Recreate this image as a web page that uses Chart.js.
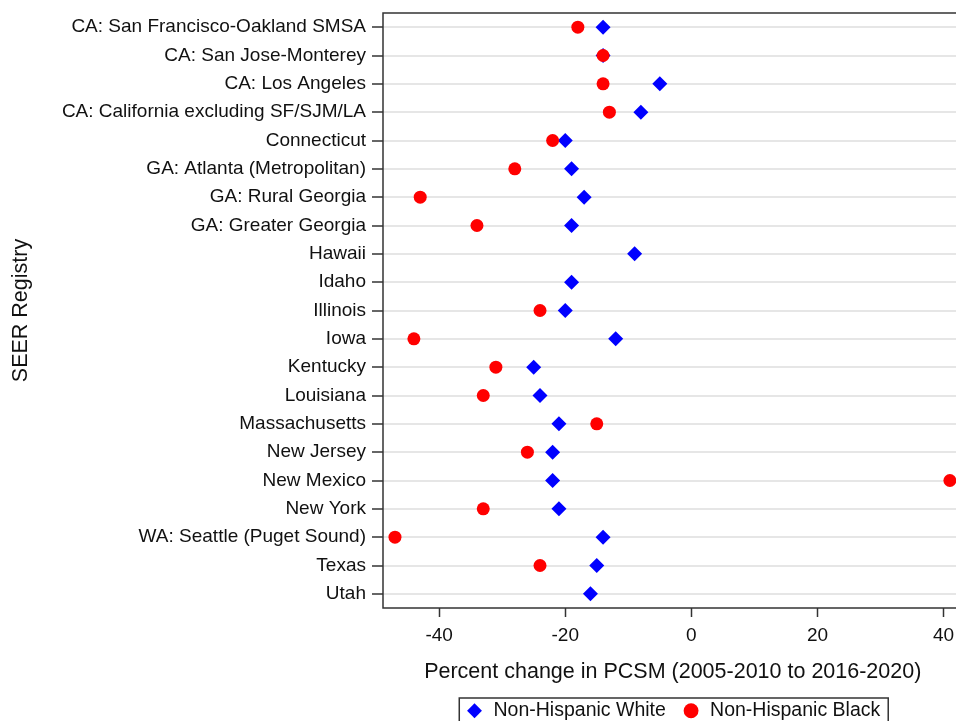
<!DOCTYPE html>
<html>
<head>
<meta charset="utf-8">
<script src="https://cdn.jsdelivr.net/npm/chart.js@4"></script>
<style>
  html, body { margin: 0; padding: 0; background: #fff; overflow: hidden; }
</style>
</head>
<body>
<canvas id="myChart" width="970" height="721"></canvas>
<script>
var registries = [
  "CA: San Francisco-Oakland SMSA",
  "CA: San Jose-Monterey",
  "CA: Los Angeles",
  "CA: California excluding SF/SJM/LA",
  "Connecticut",
  "GA: Atlanta (Metropolitan)",
  "GA: Rural Georgia",
  "GA: Greater Georgia",
  "Hawaii",
  "Idaho",
  "Illinois",
  "Iowa",
  "Kentucky",
  "Louisiana",
  "Massachusetts",
  "New Jersey",
  "New Mexico",
  "New York",
  "WA: Seattle (Puget Sound)",
  "Texas",
  "Utah"
];

// percent change in PCSM
var whiteChange = [-14, -14, -5, -8, -20, -19, -17, -19, -9, -19, -20, -12, -25, -24, -21, -22, -22, -21, -14, -15, -16];
var blackChange = [-18, -14, -14, -13, -22, -28, -43, -34, null, null, -24, -44, -31, -33, -15, -26, 41, -33, -47, -24, null];

var xTicks = [-40, -20, 0, 20, 40];

var FONT = "'Liberation Sans', Arial, Helvetica, sans-serif";

// box around the plot area and around the legend
var framePlugin = {
  id: "frame",
  afterLayout: function (chart) {
    var area = chart.chartArea;
    var legend = chart.legend;
    // centre the legend under the plot, push it to the bottom edge
    legend.left = area.left;
    legend.right = area.right;
    legend.top = 685;
    legend.bottom = legend.top + legend.height;
    // x title sits a bit lower than the default
    chart.scales.x.bottom = 685;
  },
  beforeDatasetsDraw: function (chart) {
    var c = chart.ctx, a = chart.chartArea;
    c.save();
    c.strokeStyle = "#333";
    c.lineWidth = 1.5;
    c.strokeRect(a.left, a.top, a.right - a.left, a.bottom - a.top);
    c.restore();
  },
  afterDraw: function (chart) {
    var hb = chart.legend.legendHitBoxes;
    if (!hb || !hb.length) return;
    var last = hb[hb.length - 1];
    var x1 = hb[0].left - 6;
    var x2 = last.left + last.width + 8;
    var y1 = hb[0].top - 3;
    var y2 = hb[0].top + hb[0].height + 4;
    var c = chart.ctx;
    c.save();
    c.strokeStyle = "#333";
    c.lineWidth = 1.5;
    c.strokeRect(x1, y1, x2 - x1, y2 - y1);
    c.restore();
  }
};

var ctx = document.getElementById("myChart").getContext("2d");
var chart = new Chart(ctx, {
  type: "line",
  data: {
    labels: registries,
    datasets: [
      {
        label: "Non-Hispanic White",
        data: whiteChange,
        showLine: false,
        pointStyle: "rectRot",
        pointRadius: 7.5,
        pointHoverRadius: 7.5,
        pointBorderWidth: 0,
        backgroundColor: "#0000ff",
        borderColor: "#0000ff",
        borderWidth: 0,
        order: 1
      },
      {
        label: "Non-Hispanic Black",
        data: blackChange,
        showLine: false,
        pointStyle: "circle",
        pointRadius: 6.5,
        pointHoverRadius: 6.5,
        pointBorderWidth: 0,
        backgroundColor: "#ff0000",
        borderColor: "#ff0000",
        borderWidth: 0,
        order: 0
      }
    ]
  },
  options: {
    responsive: false,
    animation: false,
    indexAxis: "y",
    layout: { padding: { top: 13, right: 6, left: 0, bottom: 0 } },
    scales: {
      x: {
        type: "linear",
        min: -48.9,
        max: 43,
        afterBuildTicks: function (scale) {
          scale.ticks = xTicks.map(function (v) { return { value: v }; });
        },
        afterFit: function (scale) {
          var lh = scale.chart.legend ? scale.chart.legend.height : 0;
          scale.height = 721 - 608 - lh;
          scale.paddingLeft = 0;
          scale.paddingRight = 0;
        },
        border: { display: false },
        grid: {
          drawOnChartArea: false,
          drawTicks: true,
          tickLength: 9,
          tickColor: "#333",
          tickWidth: 1.5
        },
        ticks: {
          padding: 7,
          color: "#111",
          font: { family: FONT, size: 19 }
        },
        title: {
          display: true,
          text: "Percent change in PCSM (2005-2010 to 2016-2020)",
          color: "#111",
          font: { family: FONT, size: 21.5 },
          padding: 0
        }
      },
      y: {
        type: "category",
        offset: true,
        afterFit: function (scale) {
          scale.width = 383;
          scale.paddingTop = 0;
          scale.paddingBottom = 0;
        },
        border: { display: false },
        grid: {
          offset: false,
          color: "#e6e6e6",
          lineWidth: 2,
          drawTicks: true,
          tickLength: 11,
          tickColor: "#333",
          tickWidth: 1.5
        },
        ticks: {
          padding: 6,
          autoSkip: false,
          color: "#111",
          font: { family: FONT, size: 19 }
        },
        title: {
          display: true,
          text: "SEER Registry",
          color: "#111",
          font: { family: FONT, size: 21.5 },
          padding: { top: 8, bottom: 0 }
        }
      }
    },
    plugins: {
      legend: {
        position: "bottom",
        labels: {
          usePointStyle: true,
          boxWidth: 18.5,
          boxHeight: 10.5,
          padding: 16,
          color: "#111",
          font: { family: FONT, size: 19.5 },
          sort: function (a, b) { return a.datasetIndex - b.datasetIndex; }
        }
      },
      tooltip: { enabled: false }
    }
  },
  plugins: [framePlugin]
});
</script>
</body>
</html>
